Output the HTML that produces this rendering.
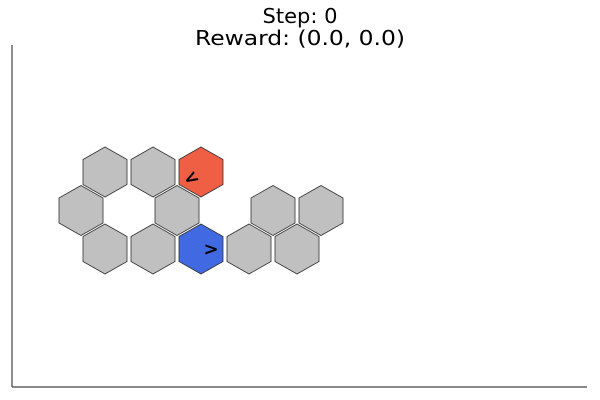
<!DOCTYPE html>
<html><head><meta charset="utf-8"><style>
html,body{margin:0;padding:0;background:#fff;}
svg{display:block;}
text{font-family:"DejaVu Sans","Liberation Sans",sans-serif;}
</style></head><body>
<svg id="chart" width="600" height="400" viewBox="0 0 600 400">
<rect width="600" height="400" fill="#fff"/>
<text x="300" y="23" font-size="20" text-anchor="middle" textLength="75" lengthAdjust="spacingAndGlyphs" fill="#000">Step: 0</text>
<text x="300" y="45" font-size="20" text-anchor="middle" textLength="210" lengthAdjust="spacingAndGlyphs" fill="#000">Reward: (0.0, 0.0)</text>
<line x1="12" y1="45" x2="12" y2="387" stroke="#444" stroke-width="1.2"/>
<line x1="12" y1="387" x2="587" y2="387" stroke="#444" stroke-width="1.2"/>
<g id="cells"></g>
<g id="agents"></g>
</svg>
<script>
const cellCols = [2,4,6,1,5,9,11,2,4,6,8,10];
const cellRows = [0,0,0,1,1,1,1,2,2,2,2,2];
const cellKinds = ["empty","empty","agent1","empty","empty","empty","empty","empty","empty","agent2","empty","empty"];
const agentCols = [6,6];
const agentRows = [0,2];
const agentSymbols = ["<",">"];
const agentAngles = [-30,0];

const xScale = c => 57 + 24*c;
const yScale = r => 172 + 38.5*r;
const colors = {empty:"#c0c0c0", agent1:"#ef5f44", agent2:"#4169e1"};
const NS = "http://www.w3.org/2000/svg";
const R = 25, W = 22;
const g = document.getElementById("cells");
for (let i=0;i<cellCols.length;i++){
  const cx = xScale(cellCols[i]), cy = yScale(cellRows[i]);
  const pts = [[0,-R],[W,-R/2],[W,R/2],[0,R],[-W,R/2],[-W,-R/2]].map(p=>(cx+p[0])+","+(cy+p[1])).join(" ");
  const p = document.createElementNS(NS,"polygon");
  p.setAttribute("points",pts);
  p.setAttribute("fill",colors[cellKinds[i]]);
  p.setAttribute("stroke","#333");
  p.setAttribute("stroke-width","0.8");
  
  
  g.appendChild(p);
}
const ag = document.getElementById("agents");
for (let i=0;i<agentCols.length;i++){
  const cx = xScale(agentCols[i]) + (i===0?-10:10), cy = yScale(agentRows[i]) + (i===0?6:0);
  const t = document.createElementNS(NS,"text");
  t.setAttribute("x",cx); t.setAttribute("y",cy+6);
  t.setAttribute("font-size","18"); t.setAttribute("font-weight","bold");
  t.setAttribute("text-anchor","middle");
  t.setAttribute("transform","rotate("+agentAngles[i]+" "+cx+" "+cy+")");
  t.textContent = agentSymbols[i];
  
  
  ag.appendChild(t);
}
</script>
</body></html>
